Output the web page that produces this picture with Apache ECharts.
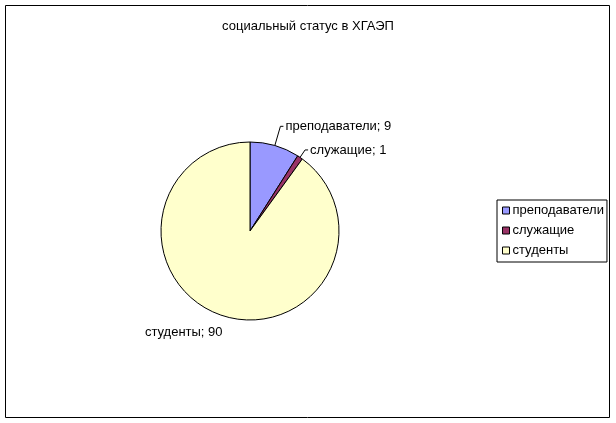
<!DOCTYPE html>
<html>
<head>
<meta charset="utf-8">
<script src="https://cdn.jsdelivr.net/npm/echarts@6/dist/echarts.min.js"></script>
<style>
html,body{margin:0;padding:0;background:#fff;}
#main{width:616px;height:423px;}
</style>
</head>
<body>
<div id="main"></div>
<script>
const titleText = 'социальный статус в ХГАЭП';
const categories = ['преподаватели', 'служащие', 'студенты'];
const values = [9, 1, 90];
const colors = ['#9999FF', '#993366', '#FFFFCC'];
const leaderLen = [20, 9, 16];
const showLeader = [true, true, false];

const chart = echarts.init(document.getElementById('main'));
const font = '"Liberation Sans", Arial, sans-serif';

const data = categories.map((c, i) => ({
  name: c,
  value: values[i],
  itemStyle: { color: colors[i] },
  labelLine: { show: showLeader[i], length: leaderLen[i], length2: 3 }
}));

chart.setOption({
  animation: false,
  backgroundColor: '#fff',
  textStyle: { fontFamily: font },
  graphic: [{
    type: 'rect',
    shape: { x: 5.5, y: 5.5, width: 604, height: 412 },
    style: { fill: 'none', stroke: '#000', lineWidth: 1 },
    silent: true
  }],
  title: {
    text: titleText,
    left: 'center',
    top: 15,
    textStyle: { fontFamily: font, fontSize: 13, fontWeight: 'normal', color: '#000' }
  },
  legend: {
    orient: 'vertical',
    left: 497,
    top: 200,
    padding: [3, 3, 4, 5],
    borderColor: '#000',
    borderWidth: 1,
    itemWidth: 7,
    itemHeight: 7,
    itemGap: 5,
    icon: 'rect',
    data: categories,
    textStyle: { fontFamily: font, fontSize: 13, color: '#000', lineHeight: 15, padding: [0, 0, 0, -2] },
    itemStyle: { borderColor: '#000', borderWidth: 1 }
  },
  series: [{
    type: 'pie',
    center: [250, 231],
    radius: 89,
    startAngle: 90,
    clockwise: true,
    avoidLabelOverlap: false,
    itemStyle: { borderColor: '#000', borderWidth: 1 },
    label: {
      show: true,
      position: 'outside',
      formatter: '{b}; {c}',
      fontFamily: font,
      fontSize: 13,
      color: '#000',
      distanceToLabelLine: 2
    },
    labelLine: { lineStyle: { color: '#000', width: 1 } },
    labelLayout: function (p) {
      if (p.dataIndex === 2) return { dx: 10, dy: 2 };
      return {};
    },
    emphasis: { disabled: true },
    data: data
  }]
});
</script>
</body>
</html>
